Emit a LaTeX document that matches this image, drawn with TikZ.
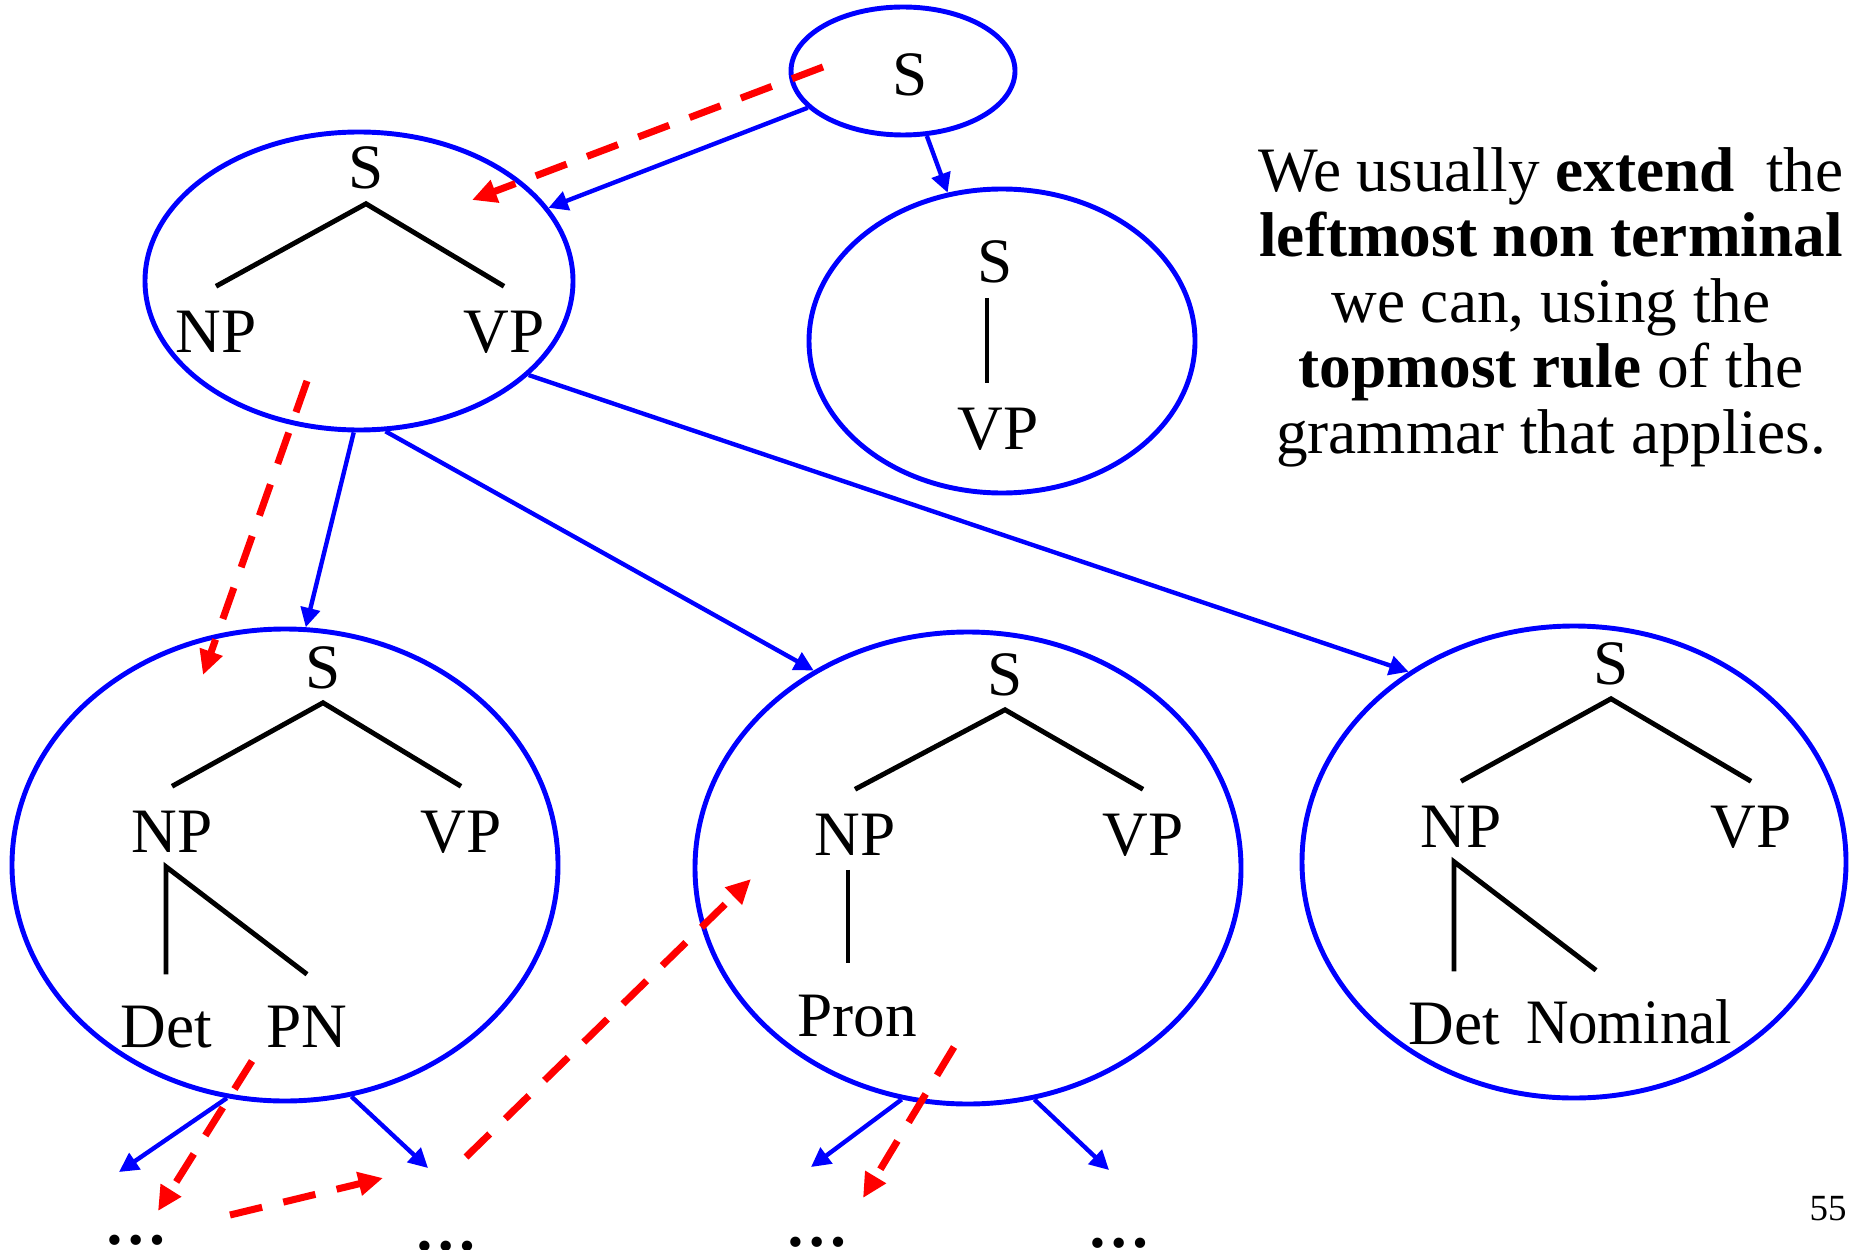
\documentclass[tikz,border=0pt]{standalone}
\usepackage{fontspec}
\setmainfont{Liberation Serif}
\usetikzlibrary{shapes.geometric,arrows.meta}

\tikzset{
  tree/.style={ellipse,draw=blue,line width=1.4pt,inner sep=0pt},
  lbl/.style={anchor=base,font=\fontsize{18}{20}\selectfont,inner sep=4pt,text height=14.5pt,text depth=0pt},
  leaf/.style={lbl,text height=16.5pt},
  branch/.style={line width=1.4pt},
  expand/.style={blue,line width=1.25pt,-{Triangle[length=5.5pt,width=5.5pt]}},
  search/.style={red,line width=2pt,dash pattern=on 9.4pt off 6.2pt,-{Triangle[length=7pt,width=6.5pt]}}
}

\begin{document}
\begin{tikzpicture}

    \useasboundingbox (0,0) rectangle (18.51,12.49);

    \node(top) [tree,minimum width=2.24cm,minimum height=1.28cm] at (9.03,11.78) {};
    \node(mid1) [tree,minimum width=4.28cm,minimum height=2.98cm] at (3.59,9.68) {};
    \node(mid2) [tree,minimum width=3.86cm,minimum height=3.04cm] at (10.02,9.08) {};
    \node(low1) [tree,minimum width=5.46cm,minimum height=4.72cm] at (2.85,3.84) {};
    \node(low2) [tree,minimum width=5.46cm,minimum height=4.72cm] at (9.68,3.81) {};
    \node(low3) [tree,minimum width=5.44cm,minimum height=4.72cm] at (15.74,3.87) {};

    \node(s0) [lbl] at (9.10,11.53) {S};

    \node(s1) [lbl] at (3.66,10.60) {S};
    \node(np1) [lbl] at (2.16,8.97) {NP};
    \node(vp1) [lbl] at (5.04,8.97) {VP};
    \draw[branch] (np1.north) -- (s1.south) -- (vp1.north);

    \node(s2) [lbl] at (9.95,9.66) {S};
    \node(vp2) [lbl] at (9.98,8.00) {VP};
    \draw[branch] ([xshift=-0.08cm]s2.south) -- ([xshift=-0.08cm]s2.south |- vp2.north);

    \node(s3) [lbl] at (3.23,5.61) {S};
    \node(np3) [lbl] at (1.72,3.97) {NP};
    \node(vp3) [lbl] at (4.61,3.97) {VP};
    \node(det3) [leaf] at (1.66,2.02) {Det};
    \node(pn3) [leaf] at (3.07,2.02) {PN};
    \draw[branch] (np3.north) -- (s3.south) -- (vp3.north);
    \draw[branch] (det3.north) -- (det3.north |- np3.south) -- (pn3.north);

    \node(s4) [lbl] at (10.05,5.54) {S};
    \node(np4) [lbl] at (8.55,3.94) {NP};
    \node(vp4) [lbl] at (11.43,3.94) {VP};
    \node(pron4) [leaf] at (8.57,2.13) {Pron};
    \draw[branch] (np4.north) -- (s4.south) -- (vp4.north);
    \draw[branch] ([xshift=-0.07cm]np4.south) -- ([xshift=-0.07cm]np4.south |- pron4.north);

    \node(s5) [lbl] at (16.11,5.65) {S};
    \node(np5) [lbl] at (14.61,4.02) {NP};
    \node(vp5) [lbl] at (17.51,4.02) {VP};
    \node(det5) [leaf] at (14.54,2.05) {Det};
    \node(nom5) [leaf] at (16.29,2.06) {\scalebox{0.93}[1]{Nominal}};
    \draw[branch] (np5.north) -- (s5.south) -- (vp5.north);
    \draw[branch] (det5.north) -- (det5.north |- np5.south) -- ([xshift=-0.33cm]nom5.north);

    \foreach \x/\y [count=\i] in {1.36/0.05,4.46/-0.01,8.17/0.03,11.19/0.02}
      \node(dots\i) [anchor=base,inner sep=0pt,font=\fontsize{18}{20}\selectfont\bfseries] at (\x,\y) {…};

    \draw[expand] (top) -- (mid1);
    \draw[expand] (top) -- (mid2);
    \draw[expand] (mid1.-92) -- (low1.85);
    \draw[expand] (mid1.-80) -- (low2.128);
    \draw[expand] (mid1.-29) -- (low3.131);

    \coordinate (x1) at (1.19,0.77);
    \coordinate (x2) at (4.28,0.81);
    \coordinate (x3) at (8.11,0.82);
    \coordinate (x4) at (11.09,0.79);
    \draw[expand] (low1.-104) -- (x1);
    \draw[expand] (low1.-74) -- (x2);
    \draw[expand] (low2.-106) -- (x3);
    \draw[expand] (low2.-74) -- (x4);

    \coordinate (p0) at (8.23,11.82);
    \coordinate (p1) at (4.72,10.49);
    \coordinate (p2) at (3.07,8.68);
    \coordinate (p3) at (2.03,5.74);
    \coordinate (p4) at (2.52,1.88);
    \coordinate (p5) at (1.58,0.38);
    \coordinate (p6) at (2.30,0.34);
    \coordinate (p7) at (3.83,0.71);
    \coordinate (p8) at (4.66,0.92);
    \coordinate (p9) at (7.51,3.70);
    \coordinate (p10) at (9.54,2.02);
    \coordinate (p11) at (8.63,0.51);
    \foreach \a/\b in {p0/p1,p2/p3,p4/p5,p6/p7,p8/p9,p10/p11}
      \draw[search] (\a) -- (\b);

    \node(note) [anchor=north,align=center,inner sep=0pt,font=\fontsize{18}{18.6}\selectfont] at (15.51,11.02) {
      We usually \textbf{extend}\ \ the\\
      \textbf{leftmost non terminal}\\
      we can, using the\\
      \textbf{topmost rule} of the\\
      grammar that applies.
    };

    \node(page) [anchor=base,font=\fontsize{10.5}{12}\selectfont] at (18.28,0.29) {55};

  \end{tikzpicture}
\end{document}
